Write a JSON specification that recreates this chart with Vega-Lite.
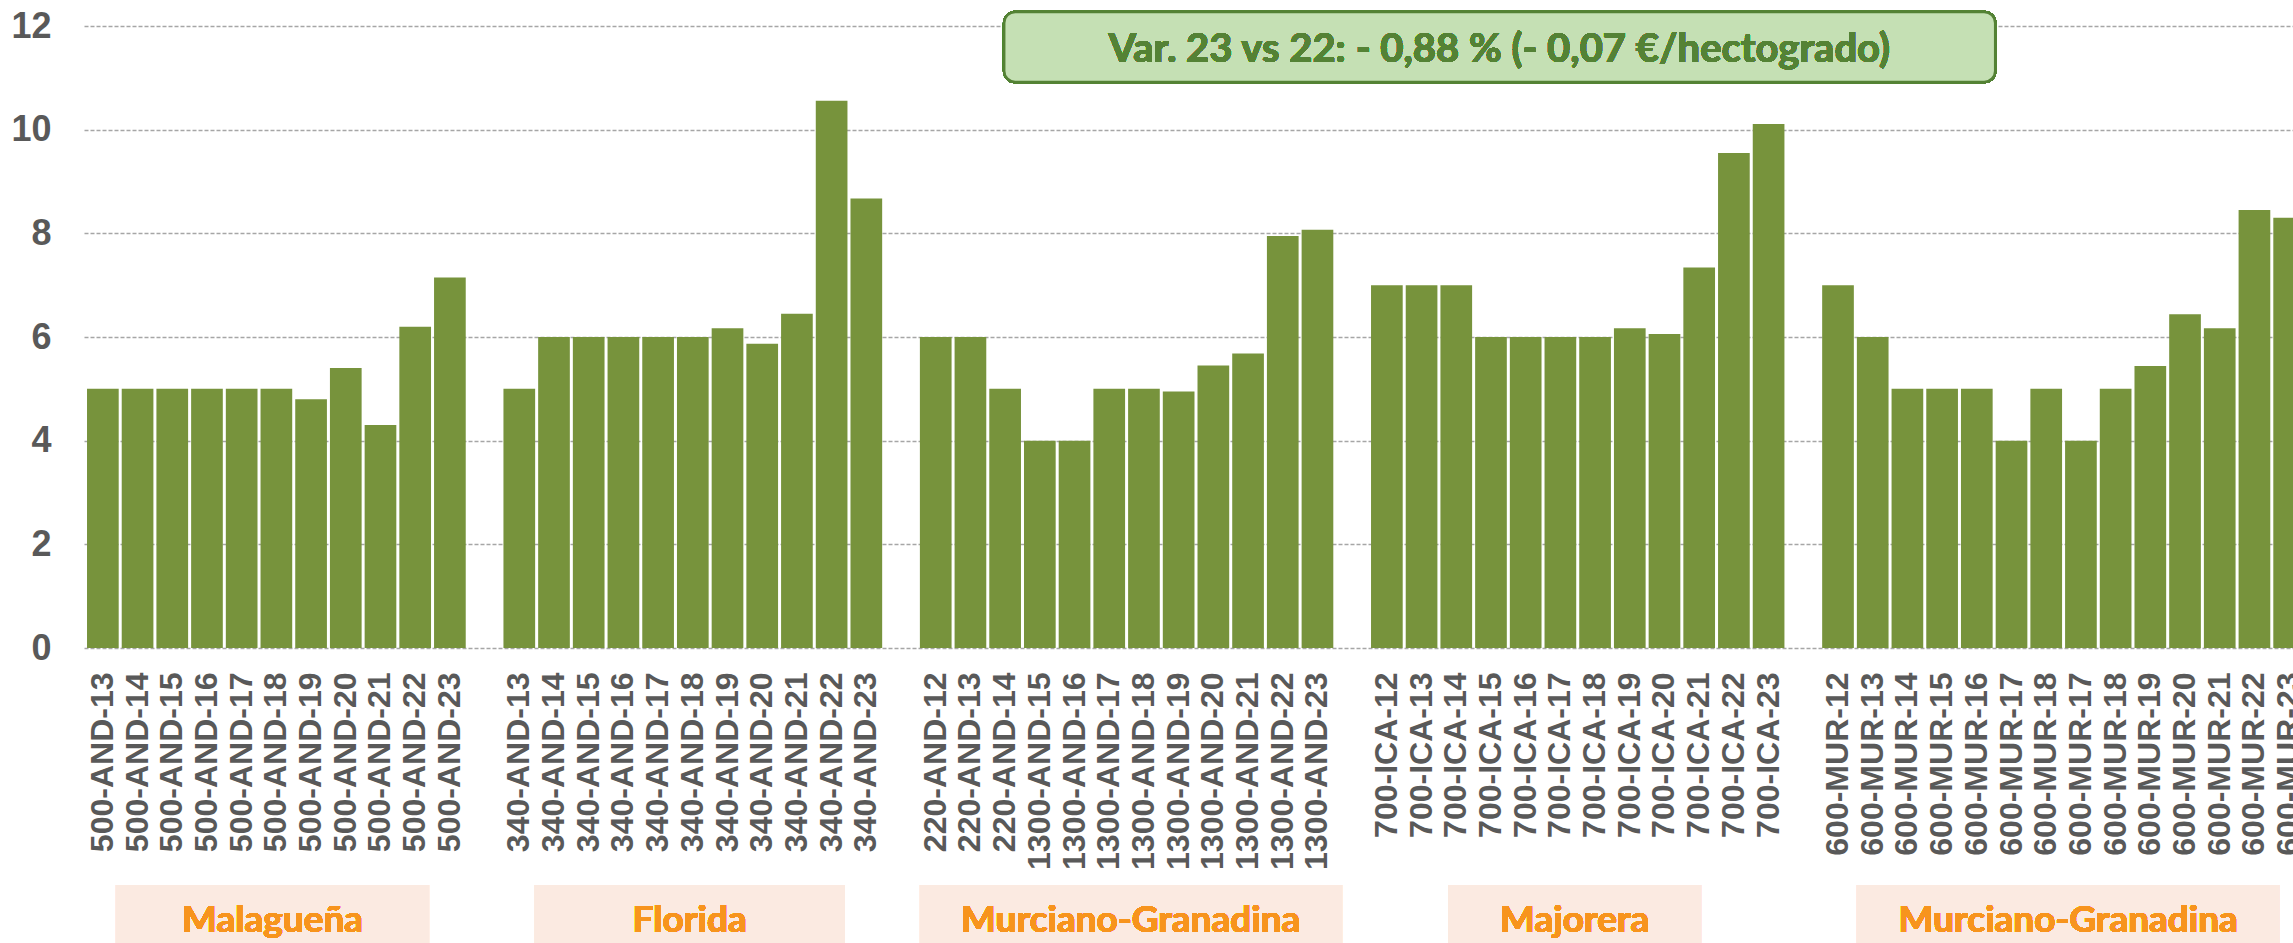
{
  "$schema": "https://vega.github.io/schema/vega-lite/v6.json",
  "autosize": {"type": "none"},
  "padding": {"left": 84, "top": 26, "right": 0, "bottom": 295},
  "width": 2209,
  "height": 622,
  "background": "white",
  "config": {"view": {"stroke": null}},
  "data": {"values": [
    {"id": "500-AND-13", "valor": 5}, {"id": "500-AND-14", "valor": 5}, {"id": "500-AND-15", "valor": 5},
    {"id": "500-AND-16", "valor": 5}, {"id": "500-AND-17", "valor": 5}, {"id": "500-AND-18", "valor": 5},
    {"id": "500-AND-19", "valor": 4.8}, {"id": "500-AND-20", "valor": 5.4}, {"id": "500-AND-21", "valor": 4.3},
    {"id": "500-AND-22", "valor": 6.2}, {"id": "500-AND-23", "valor": 7.15},
    {"id": "340-AND-13", "valor": 5}, {"id": "340-AND-14", "valor": 6}, {"id": "340-AND-15", "valor": 6},
    {"id": "340-AND-16", "valor": 6}, {"id": "340-AND-17", "valor": 6}, {"id": "340-AND-18", "valor": 6},
    {"id": "340-AND-19", "valor": 6.17}, {"id": "340-AND-20", "valor": 5.87}, {"id": "340-AND-21", "valor": 6.45},
    {"id": "340-AND-22", "valor": 10.56}, {"id": "340-AND-23", "valor": 8.67},
    {"id": "220-AND-12", "valor": 6}, {"id": "220-AND-13", "valor": 6}, {"id": "220-AND-14", "valor": 5},
    {"id": "1300-AND-15", "valor": 4}, {"id": "1300-AND-16", "valor": 4}, {"id": "1300-AND-17", "valor": 5},
    {"id": "1300-AND-18", "valor": 5}, {"id": "1300-AND-19", "valor": 4.95}, {"id": "1300-AND-20", "valor": 5.45},
    {"id": "1300-AND-21", "valor": 5.68}, {"id": "1300-AND-22", "valor": 7.95}, {"id": "1300-AND-23", "valor": 8.07},
    {"id": "700-ICA-12", "valor": 7}, {"id": "700-ICA-13", "valor": 7}, {"id": "700-ICA-14", "valor": 7},
    {"id": "700-ICA-15", "valor": 6}, {"id": "700-ICA-16", "valor": 6}, {"id": "700-ICA-17", "valor": 6},
    {"id": "700-ICA-18", "valor": 6}, {"id": "700-ICA-19", "valor": 6.17}, {"id": "700-ICA-20", "valor": 6.06},
    {"id": "700-ICA-21", "valor": 7.34}, {"id": "700-ICA-22", "valor": 9.55}, {"id": "700-ICA-23", "valor": 10.11},
    {"id": "600-MUR-12", "valor": 7}, {"id": "600-MUR-13", "valor": 6}, {"id": "600-MUR-14", "valor": 5},
    {"id": "600-MUR-15", "valor": 5}, {"id": "600-MUR-16", "valor": 5}, {"id": "600-MUR-17", "valor": 4},
    {"id": "600-MUR-18", "valor": 5}, {"id": "600-MUR-17#2", "valor": 4}, {"id": "600-MUR-18#2", "valor": 5},
    {"id": "600-MUR-19", "valor": 5.44}, {"id": "600-MUR-20", "valor": 6.44}, {"id": "600-MUR-21", "valor": 6.17},
    {"id": "600-MUR-22", "valor": 8.45}, {"id": "600-MUR-23", "valor": 8.3}
  ]},
  "layer": [
    {
      "mark": {"type": "bar", "color": "#77933c"},
      "encoding": {
        "x": {
          "field": "id", "type": "nominal", "sort": null, "title": null,
          "scale": {
            "type": "band",
            "domain": ["500-AND-13","500-AND-14","500-AND-15","500-AND-16","500-AND-17","500-AND-18","500-AND-19","500-AND-20","500-AND-21","500-AND-22","500-AND-23","#g1",
                       "340-AND-13","340-AND-14","340-AND-15","340-AND-16","340-AND-17","340-AND-18","340-AND-19","340-AND-20","340-AND-21","340-AND-22","340-AND-23","#g2",
                       "220-AND-12","220-AND-13","220-AND-14","1300-AND-15","1300-AND-16","1300-AND-17","1300-AND-18","1300-AND-19","1300-AND-20","1300-AND-21","1300-AND-22","1300-AND-23","#g3",
                       "700-ICA-12","700-ICA-13","700-ICA-14","700-ICA-15","700-ICA-16","700-ICA-17","700-ICA-18","700-ICA-19","700-ICA-20","700-ICA-21","700-ICA-22","700-ICA-23","#g4",
                       "600-MUR-12","600-MUR-13","600-MUR-14","600-MUR-15","600-MUR-16","600-MUR-17","600-MUR-18","600-MUR-17#2","600-MUR-18#2","600-MUR-19","600-MUR-20","600-MUR-21","600-MUR-22","600-MUR-23"],
            "range": [0, 2224],
            "paddingInner": 0.087,
            "paddingOuter": 0.087
          },
          "axis": {
            "labelExpr": "split(datum.value, '#')[0]",
            "labelAngle": 270,
            "labelAlign": "right",
            "labelBaseline": "middle",
            "labelFont": "Liberation Sans",
            "labelFontWeight": "bold",
            "labelFontSize": 32,
            "labelColor": "#595959",
            "labelPadding": 24,
            "labelLimit": 400,
            "labelOverlap": false,
            "ticks": false,
            "domain": false,
            "grid": false
          }
        },
        "y": {
          "field": "valor", "type": "quantitative", "title": null,
          "scale": {"domain": [0, 12], "nice": false},
          "axis": {
            "values": [0, 2, 4, 6, 8, 10, 12],
            "labelFont": "Liberation Sans",
            "labelFontWeight": "bold",
            "labelFontSize": 36,
            "labelColor": "#595959",
            "labelPadding": 33,
            "ticks": false,
            "domain": false,
            "grid": true,
            "gridColor": "#a6a6a6",
            "gridDash": [4, 2],
            "gridWidth": 1.5
          }
        }
      }
    },
    {
      "mark": {"type": "rect", "fill": "#c5e0b4", "stroke": "#548235", "strokeWidth": 2.5, "cornerRadius": 11},
      "encoding": {
        "x": {"datum": "220-AND-14", "type": "nominal", "bandPosition": 0.47},
        "x2": {"datum": "600-MUR-16", "bandPosition": 1.08},
        "y": {"datum": 12.27, "type": "quantitative"},
        "y2": {"datum": 10.92}
      }
    },
    {
      "mark": {"type": "text", "font": "Lato", "fontWeight": "bold", "fontSize": 40, "color": "#548235", "align": "center", "baseline": "alphabetic"},
      "encoding": {
        "x": {"datum": "700-ICA-15", "type": "nominal", "bandPosition": 0.76},
        "y": {"datum": 11.305, "type": "quantitative"},
        "text": {"value": "Var. 23 vs 22: - 0,88 % (- 0,07 €/hectogrado)"}
      }
    },
    {
      "mark": {"type": "rect", "fill": "#fbeae1"},
      "encoding": {
        "x": {"datum": "500-AND-13", "type": "nominal", "bandPosition": 0.91},
        "x2": {"datum": "500-AND-22", "bandPosition": 0.94},
        "y": {"datum": -4.57, "type": "quantitative"},
        "y2": {"datum": -6}
      }
    },
    {
      "mark": {"type": "rect", "fill": "#fbeae1"},
      "encoding": {
        "x": {"datum": "340-AND-13", "type": "nominal", "bandPosition": 0.97},
        "x2": {"datum": "340-AND-22", "bandPosition": 0.92},
        "y": {"datum": -4.57, "type": "quantitative"},
        "y2": {"datum": -6}
      }
    },
    {
      "mark": {"type": "rect", "fill": "#fbeae1"},
      "encoding": {
        "x": {"datum": "220-AND-12", "type": "nominal", "bandPosition": 0},
        "x2": {"datum": "1300-AND-23", "bandPosition": 1.28},
        "y": {"datum": -4.57, "type": "quantitative"},
        "y2": {"datum": -6}
      }
    },
    {
      "mark": {"type": "rect", "fill": "#fbeae1"},
      "encoding": {
        "x": {"datum": "700-ICA-14", "type": "nominal", "bandPosition": 0.24},
        "x2": {"datum": "700-ICA-21", "bandPosition": 0.56},
        "y": {"datum": -4.57, "type": "quantitative"},
        "y2": {"datum": -6}
      }
    },
    {
      "mark": {"type": "rect", "fill": "#fbeae1"},
      "encoding": {
        "x": {"datum": "600-MUR-13", "type": "nominal", "bandPosition": 0},
        "x2": {"datum": "600-MUR-23", "bandPosition": 0.19},
        "y": {"datum": -4.57, "type": "quantitative"},
        "y2": {"datum": -6}
      }
    },
    {
      "mark": {"type": "text", "font": "Lato", "fontWeight": "bold", "fontSize": 37, "color": "#f7941d", "align": "center", "baseline": "alphabetic"},
      "encoding": {
        "x": {"datum": "500-AND-18", "type": "nominal", "bandPosition": 0.38},
        "y": {"datum": -5.48, "type": "quantitative"},
        "text": {"value": "Malagueña"}
      }
    },
    {
      "mark": {"type": "text", "font": "Lato", "fontWeight": "bold", "fontSize": 37, "color": "#f7941d", "align": "center", "baseline": "alphabetic"},
      "encoding": {
        "x": {"datum": "340-AND-18", "type": "nominal", "bandPosition": 0.4},
        "y": {"datum": -5.48, "type": "quantitative"},
        "text": {"value": "Florida"}
      }
    },
    {
      "mark": {"type": "text", "font": "Lato", "fontWeight": "bold", "fontSize": 37, "color": "#f7941d", "align": "center", "baseline": "alphabetic"},
      "encoding": {
        "x": {"datum": "1300-AND-18", "type": "nominal", "bandPosition": 0.08},
        "y": {"datum": -5.48, "type": "quantitative"},
        "text": {"value": "Murciano-Granadina"}
      }
    },
    {
      "mark": {"type": "text", "font": "Lato", "fontWeight": "bold", "fontSize": 37, "color": "#f7941d", "align": "center", "baseline": "alphabetic"},
      "encoding": {
        "x": {"datum": "700-ICA-17", "type": "nominal", "bandPosition": 0.95},
        "y": {"datum": -5.48, "type": "quantitative"},
        "text": {"value": "Majorera"}
      }
    },
    {
      "mark": {"type": "text", "font": "Lato", "fontWeight": "bold", "fontSize": 37, "color": "#f7941d", "align": "center", "baseline": "alphabetic"},
      "encoding": {
        "x": {"datum": "600-MUR-17#2", "type": "nominal", "bandPosition": 0.1},
        "y": {"datum": -5.48, "type": "quantitative"},
        "text": {"value": "Murciano-Granadina"}
      }
    }
  ]
}
